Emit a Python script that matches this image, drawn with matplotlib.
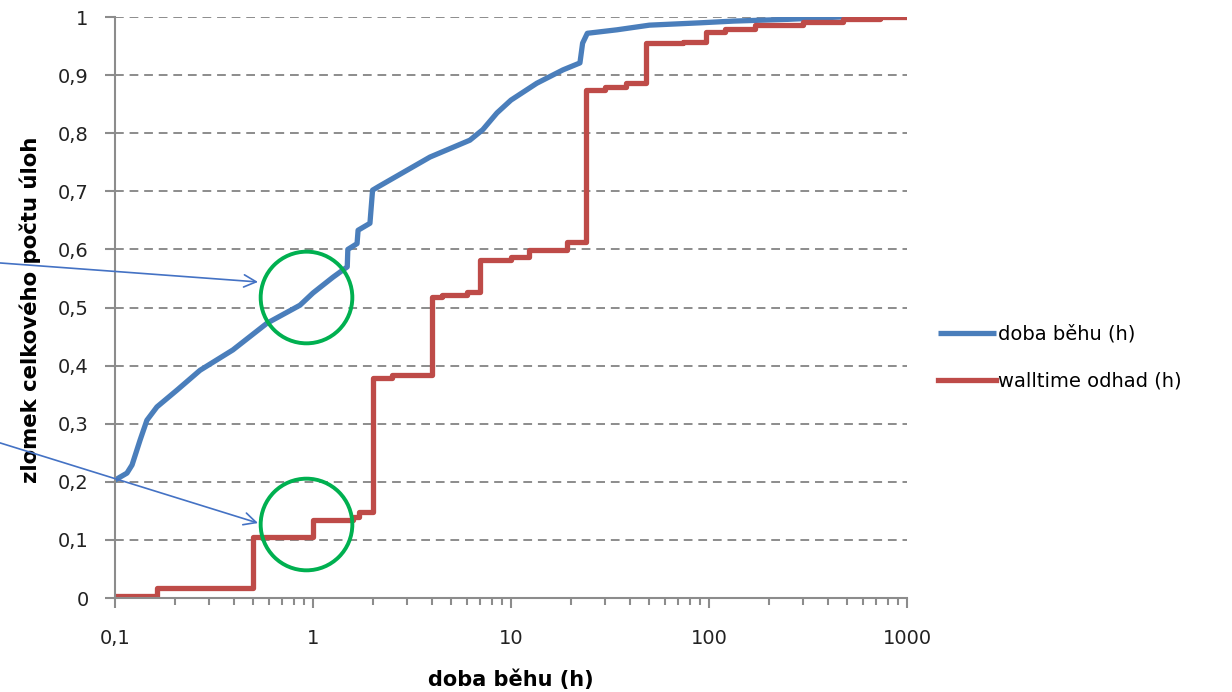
import numpy as np
import matplotlib
matplotlib.use("Agg")
import matplotlib.pyplot as plt
from matplotlib.ticker import FixedLocator, LogLocator, NullFormatter, FuncFormatter

# cumulative share of jobs vs. time (h)
run_x = [0.1, 0.115, 0.122, 0.134, 0.145, 0.163, 0.206, 0.269, 0.394, 0.586, 0.86, 1.0,
         1.26, 1.49, 1.5, 1.67, 1.69, 1.94, 2.0, 2.14, 3.9, 6.2, 7.2, 8.5, 10, 13.5, 18.3,
         22.3, 23.0, 24.3, 34.3, 50, 90, 133, 250, 460, 1000]
run_y = [0.203, 0.215, 0.229, 0.272, 0.306, 0.329, 0.358, 0.392, 0.427, 0.473, 0.504, 0.525,
         0.552, 0.570, 0.600, 0.610, 0.633, 0.645, 0.702, 0.708, 0.759, 0.788, 0.806, 0.835,
         0.857, 0.886, 0.909, 0.921, 0.955, 0.972, 0.978, 0.986, 0.990, 0.993, 0.996, 1.0, 1.0]

wall_x = [0.1, 0.163, 0.5, 1.0, 1.6, 1.7, 2.0, 2.5, 4.0, 4.5, 6.0, 7.0, 10, 12.4, 19.2, 24,
          30, 38, 48, 74, 97, 121, 170, 298, 475, 730, 1000]
wall_y = [0.003, 0.017, 0.105, 0.134, 0.140, 0.148, 0.378, 0.384, 0.518, 0.522, 0.527, 0.582,
          0.587, 0.599, 0.613, 0.874, 0.880, 0.886, 0.955, 0.957, 0.975, 0.979, 0.986, 0.991,
          0.996, 1.0, 1.0]

labels = ["doba běhu (h)", "walltime odhad (h)"]
x_ticks = [0.1, 1, 10, 100, 1000]
x_ticklabels = ["0,1", "1", "10", "100", "1000"]
y_ticks = np.round(np.arange(0, 1.01, 0.1), 1)

# highlighted spots (x, y) and arrow tips
circles = [(0.923, 0.518), (0.923, 0.127)]
arrow_tips = [(0.528, 0.544), (0.528, 0.129)]
arrow_starts = [(0.0, 0.620), (0.0, 0.360)]

plt.rcParams["font.family"] = ["DejaVu Sans"]
grey = "#8c8c8c"

fig = plt.figure(figsize=(12.32, 6.92), dpi=100)
ax = fig.add_axes([0.0933, 0.1358, 0.6429, 0.8396])

ax.plot(run_x, run_y, color="#4a7ebb", lw=3.8, label=labels[0], solid_capstyle="butt")
ax.plot(wall_x, wall_y, color="#be4b48", lw=3.8, drawstyle="steps-post", label=labels[1])

ax.set_xscale("log")
ax.set_xlim(0.1, 1000)
ax.set_ylim(0, 1)

ax.xaxis.set_major_locator(FixedLocator(x_ticks))
ax.set_xticklabels(x_ticklabels)
ax.xaxis.set_minor_locator(LogLocator(base=10, subs=np.arange(2, 10)))
ax.xaxis.set_minor_formatter(NullFormatter())
ax.set_yticks(y_ticks)
ax.yaxis.set_major_formatter(FuncFormatter(lambda v, p: ("%g" % v).replace(".", ",")))

ax.tick_params(axis="both", which="major", labelsize=14, labelcolor="#222222", color=grey, width=1.5)
ax.tick_params(axis="x", which="major", length=7, pad=15)
ax.tick_params(axis="x", which="minor", length=5, color=grey, width=1.5)
ax.tick_params(axis="y", which="major", length=7, pad=12)

for s in ["top", "right"]:
    ax.spines[s].set_visible(False)
for s in ["left", "bottom"]:
    ax.spines[s].set_color(grey)
    ax.spines[s].set_linewidth(1.5)

ax.yaxis.grid(True, color=grey, lw=1.4, linestyle=(0, (4.5, 3)))
ax.set_axisbelow(True)

ax.set_xlabel("doba běhu (h)", fontsize=15, fontweight="bold", labelpad=16)
ax.set_ylabel("zlomek celkového počtu úloh", fontsize=15.3, fontweight="bold")
ax.yaxis.set_label_coords(-0.0934, 0.496)

for (cx, cy) in circles:
    ax.plot([cx], [cy], marker="o", markersize=66, mfc="none", mec="#00b050", mew=2.8, clip_on=False)

for tip, start in zip(arrow_tips, arrow_starts):
    ax.annotate("", xy=tip, xycoords="data", xytext=start, textcoords="figure fraction",
                arrowprops=dict(arrowstyle="->", color="#4472c4", lw=1.2, mutation_scale=22,
                                shrinkA=0, shrinkB=0))

ax.legend(loc="center left", bbox_to_anchor=(0.761, 0.483), bbox_transform=fig.transFigure,
          frameon=False, fontsize=14, handlelength=3.0, handletextpad=0.1, labelspacing=1.45,
          borderpad=0, borderaxespad=0)

fig.savefig("out.png", dpi=100)
